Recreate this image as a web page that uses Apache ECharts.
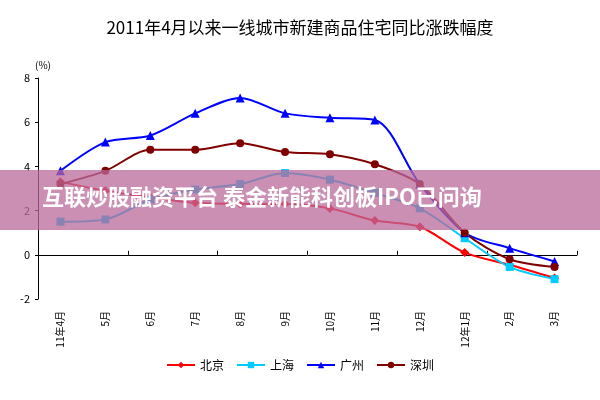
<!DOCTYPE html>
<html><head><meta charset="utf-8">
<script src="https://cdn.jsdelivr.net/npm/echarts@6/dist/echarts.min.js"></script>
<style>html,body{margin:0;padding:0;background:#fff}#c{width:600px;height:400px}</style>
</head><body><div id="c"></div>
<script>
var months = ['11年4月', '5月', '6月', '7月', '8月', '9月', '10月', '11月', '12月', '12年1月', '2月', '3月'];
var beijing = [3.3, 2.9, 2.6, 2.35, 2.3, 2.3, 2.1, 1.55, 1.27, 0.1, -0.45, -1.05];
var shanghai = [1.5, 1.6, 2.5, 2.95, 3.2, 3.7, 3.4, 2.8, 2.1, 0.75, -0.55, -1.1];
var guangzhou = [3.8, 5.1, 5.4, 6.4, 7.1, 6.4, 6.2, 6.1, 3.2, 1.0, 0.3, -0.3];
var shenzhen = [3.2, 3.8, 4.75, 4.75, 5.05, 4.65, 4.55, 4.1, 3.2, 1.0, -0.2, -0.55];

var chart = echarts.init(document.getElementById('c'));
function line(name, data, color, symbol, size) {
  return {
    name: name, type: 'line', data: data, smooth: 0.3,
    symbol: symbol, symbolSize: size,
    lineStyle: { color: color, width: 2 },
    itemStyle: { color: color }
  };
}
chart.setOption({
  animation: false,
  textStyle: { fontFamily: 'Noto Sans CJK SC' },
  title: {
    text: '2011年4月以来一线城市新建商品住宅同比涨跌幅度',
    left: 'center', top: 14,
    textStyle: { fontSize: 17, fontWeight: 'normal', color: '#000' }
  },
  legend: {
    bottom: 24, itemGap: 12, itemWidth: 28, itemHeight: 8,
    textStyle: { fontSize: 12, color: '#000' }
  },
  grid: { left: 38, right: 23, top: 78, bottom: 101 },
  xAxis: [{
    type: 'category', data: months, boundaryGap: true,
    axisLine: { onZero: true, show: true, lineStyle: { color: '#000' } },
    axisTick: { show: true, inside: true, length: 4, lineStyle: { color: '#000' } },
    axisLabel: { show: false }
  }, {
    type: 'category', data: months, boundaryGap: true, position: 'bottom',
    axisLine: { onZero: false, show: false },
    axisTick: { show: false },
    axisLabel: { rotate: 90, fontSize: 10, color: '#000', margin: 12, verticalAlign: 'middle', align: 'right' }
  }],
  yAxis: {
    type: 'value', min: -2, max: 8, interval: 2,
    name: '(%)', nameGap: 8, nameTextStyle: { fontSize: 10, color: '#000', padding: [0, 0, 0, 10] },
    axisLine: { show: true, lineStyle: { color: '#000' } },
    axisTick: { show: true, length: 3, lineStyle: { color: '#000' } },
    axisLabel: { fontSize: 11, color: '#000' },
    splitLine: { show: false }
  },
  series: [
    line('北京', beijing, '#ff0000', 'diamond', 9),
    line('上海', shanghai, '#00ccff', 'rect', 8),
    line('广州', guangzhou, '#0000ff', 'triangle', 9),
    line('深圳', shenzhen, '#800000', 'circle', 8)
  ],
  graphic: [
    { type: 'rect', left: 0, top: 170, shape: { width: 600, height: 60 }, style: { fill: 'rgba(185,105,155,0.75)' }, z: 100 },
    { type: 'text', left: 42, top: 186, style: { text: '互联炒股融资平台 泰金新能科创板IPO已问询', fill: '#fff', fontSize: 22, fontWeight: 'bold', fontFamily: 'Noto Sans CJK SC' }, z: 101 }
  ]
});
</script></body></html>
